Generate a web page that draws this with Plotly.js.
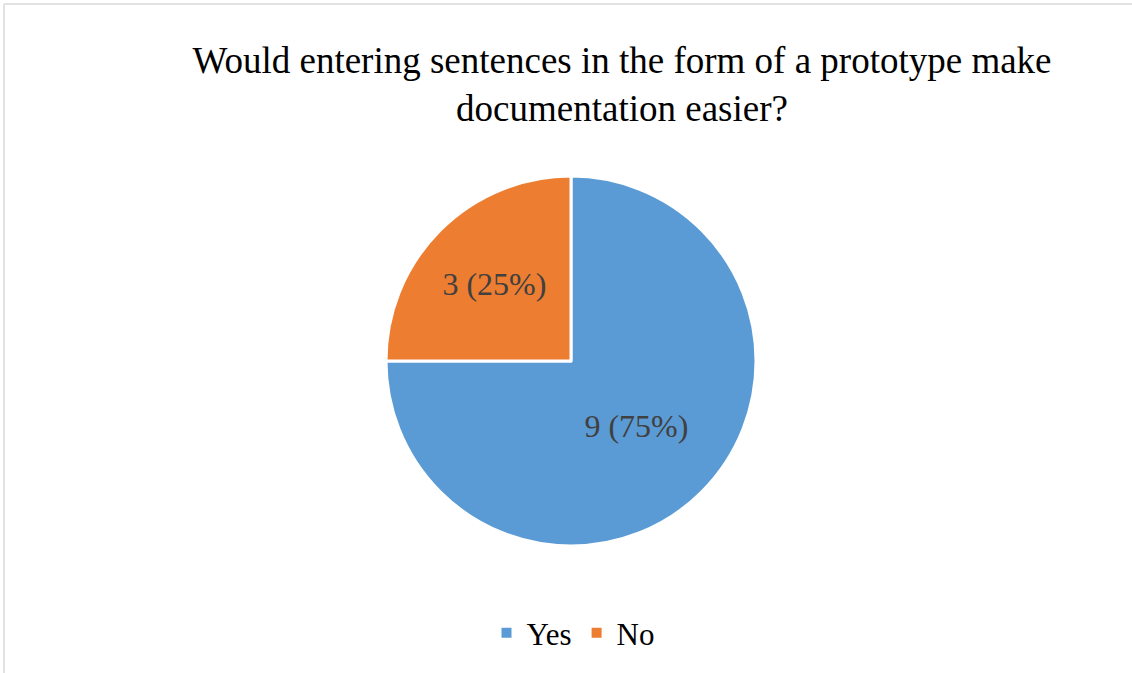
<!DOCTYPE html>
<html>
<head>
<meta charset="utf-8">
<script src="https://cdn.plot.ly/plotly-3.0.1.min.js"></script>
<style>html,body{margin:0;padding:0;background:#fff;}#chart{width:1132px;height:673px;}</style>
</head>
<body>
<div id="chart"></div>
<script>
const categories = ["Yes", "No"];
const counts = [9, 3];
const colors = ["#5B9BD5", "#ED7D31"];
const chartTitle = "Would entering sentences in the form of a prototype make<br>documentation easier?";

const W = 1132, H = 673;
const cx = 571, cy = 361, r = 185;

const trace = {
  type: "pie",
  labels: categories,
  values: counts,
  sort: false,
  direction: "clockwise",
  rotation: 0,
  marker: {colors: colors, line: {color: "#ffffff", width: 3}},
  texttemplate: "%{value} (%{percent:.0%})",
  textposition: "inside",
  insidetextorientation: "horizontal",
  textfont: {family: "Liberation Serif, Times New Roman, serif", size: 32, color: "#404040"},
  hoverinfo: "label+value+percent",
  domain: {x: [(cx - r) / W, (cx + r) / W], y: [(H - cy - r) / H, (H - cy + r) / H]}
};

const layout = {
  width: W, height: H,
  margin: {l: 0, r: 0, t: 0, b: 0},
  paper_bgcolor: "#ffffff",
  title: {
    text: chartTitle,
    font: {family: "Liberation Serif, Times New Roman, serif", size: 37, color: "#000000"},
    x: 622 / W, xanchor: "center", xref: "paper",
    y: 1 - 73 / H, yanchor: "top", yref: "container"
  },
  showlegend: true,
  legend: {
    orientation: "h", x: 0.5 + 7 / W, xanchor: "center", y: (H - 633) / H, yanchor: "middle",
    font: {family: "Liberation Serif, Times New Roman, serif", size: 31, color: "#000000"},
    itemsizing: "constant"
  },
  shapes: [
    {type: "line", xref: "paper", yref: "paper", x0: 4 / W, x1: 1, y0: 1 - 4 / H, y1: 1 - 4 / H, line: {color: "#d9d9d9", width: 1.5}},
    {type: "line", xref: "paper", yref: "paper", x0: 4 / W, x1: 4 / W, y0: 0, y1: 1 - 4 / H, line: {color: "#d9d9d9", width: 1.5}}
  ]
};

Plotly.newPlot("chart", [trace], layout, {displayModeBar: false, staticPlot: true});
</script>
</body>
</html>
